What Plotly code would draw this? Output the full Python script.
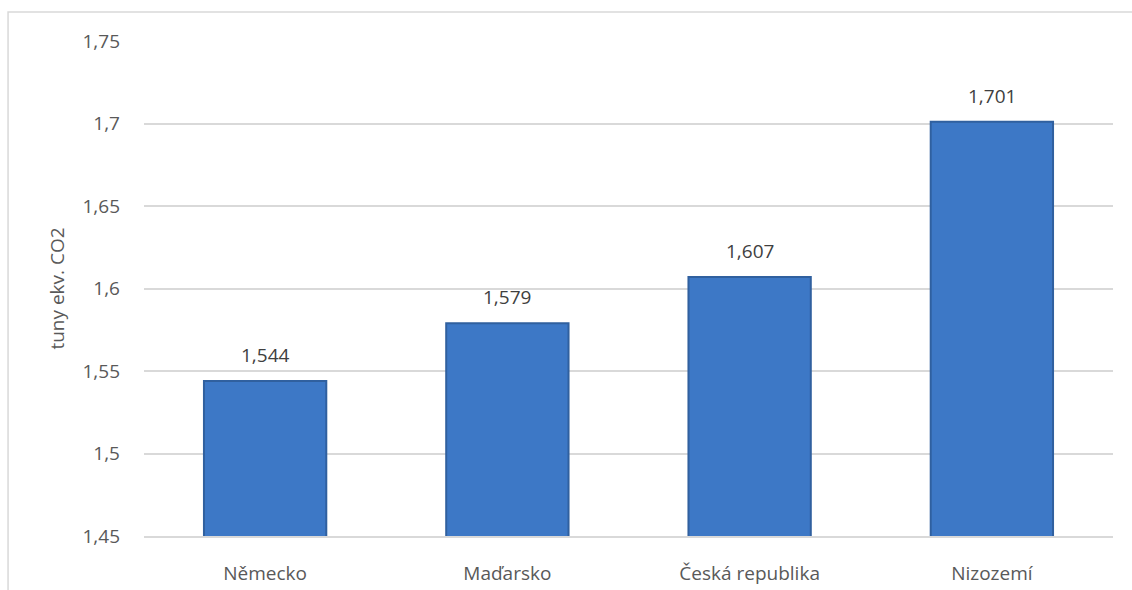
import plotly.graph_objects as go

# Emise na osobu podle země
countries = ["Německo", "Maďarsko", "Česká republika", "Nizozemí"]
values = [1.544, 1.579, 1.607, 1.701]
y_ticks = [1.45, 1.5, 1.55, 1.6, 1.65, 1.7, 1.75]

font_family = "'Open Sans', sans-serif"
text_color = "#595959"
font_size = 19

fig = go.Figure(
    go.Bar(
        x=countries,
        y=values,
        marker=dict(color="#3D78C6", line=dict(color="#30609F", width=2)),
        width=0.505,
        hoverinfo="x+y",
    )
)

# Hodnoty nad sloupci
for c, v in zip(countries, values):
    fig.add_annotation(
        x=c, y=v,
        text=f"{v:.3f}".replace(".", ","),
        showarrow=False,
        yanchor="bottom",
        yshift=11,
        font=dict(family=font_family, size=font_size, color="#404040"),
    )

fig.update_layout(
    width=1132,
    height=590,
    margin=dict(l=144, r=19, t=41, b=54),
    paper_bgcolor="white",
    plot_bgcolor="white",
    separators=", ",
    showlegend=False,
    font=dict(family=font_family, size=font_size, color=text_color),
    shapes=[
        dict(
            type="rect", xref="paper", yref="paper",
            x0=-0.1403, x1=1.2, y0=-0.3, y1=1.0586,
            line=dict(color="#D9D9D9", width=1.5),
            fillcolor="rgba(0,0,0,0)", layer="below",
        )
    ],
)

fig.update_yaxes(
    range=[1.45, 1.75],
    tickvals=y_ticks,
    showgrid=True,
    gridcolor="#D9D9D9",
    gridwidth=1.5,
    zeroline=False,
    showline=False,
    automargin=False,
    ticklabelstandoff=23,
    tickfont=dict(size=font_size, color=text_color),
    title=dict(text="tuny ekv. CO2", font=dict(size=font_size, color=text_color), standoff=12),
)
fig.update_xaxes(
    showgrid=False,
    showline=True,
    linecolor="#D9D9D9",
    linewidth=1.5,
    automargin=False,
    ticklabelstandoff=19,
    tickfont=dict(size=font_size, color=text_color),
)

fig.write_html("out.html")
